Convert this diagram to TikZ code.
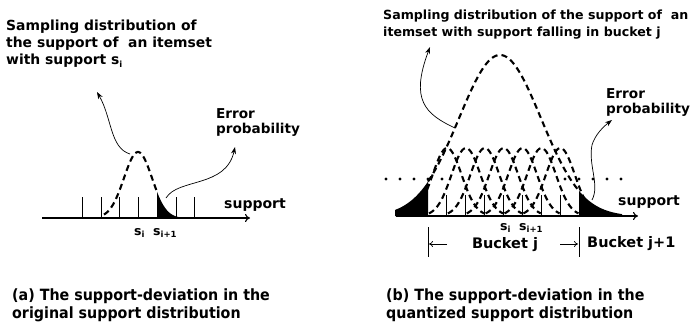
\documentclass[tikz,border=0pt]{standalone}
\usepackage{fontspec}
\setmainfont{DejaVu Sans}
\newfontfamily\capfont{DejaVu Sans}[FakeStretch=0.92]
\usetikzlibrary{arrows.meta}
\newcommand{\sbsc}[1]{\raisebox{-0.4ex}{\fontsize{8.5}{8.5}\selectfont #1}}
\begin{document}
\begin{tikzpicture}[x=1pt,y=-1pt,
  lbl/.style={font=\bfseries\fontsize{13.9}{17}\selectfont, inner sep=0pt, align=left, anchor=north west},
  rlbl/.style={font=\bfseries\fontsize{12.6}{17}\selectfont, inner sep=0pt, align=left, anchor=north west},
  eprob/.style={font=\bfseries\fontsize{13.6}{15}\selectfont, inner sep=0pt, align=left, anchor=north west},
  small/.style={font=\bfseries\fontsize{14}{14}\selectfont, inner sep=0pt},
  slbl/.style={font=\bfseries\fontsize{12.5}{12.5}\selectfont, inner sep=0pt, anchor=base west},
  captxt/.style={font=\capfont\bfseries\fontsize{15.5}{18}\selectfont, inner sep=0pt, align=left, anchor=north west},
  bell/.style={line width=2.1pt, dash pattern=on 6pt off 4pt},
  axisln/.style={line width=1.1pt},
  tickln/.style={line width=0.9pt},
  conn/.style={line width=0.7pt, -{Stealth[length=7pt,width=5pt]}},
  axarrow/.style={-{To[length=5pt,width=8pt]}},
]
\useasboundingbox (0,0) rectangle (693,324);

% ================= left panel =================
\node[lbl] (ltitle) at (6,20) {Sampling distribution of\\the support of\ \ an itemset\\with support s\sbsc{i}};

% black error region
\fill (157,218) -- plot[domain=157:182,samples=30] (\x,{218-66*exp(-((\x-138)^2)/392)}) -- (182,218) -- cycle;
% dashed bell
\draw[bell] plot[domain=104:157,samples=50] (\x,{218-66*exp(-((\x-138)^2)/392)});

% axis and ticks
\coordinate (laxs) at (42,218);
\coordinate (laxe) at (250,218);
\draw[axisln,axarrow] (laxs) -- (laxe);
\foreach \t in {82,101,119.5,138,157,176,194}
  \draw[tickln] (\t,218) -- (\t,197);

\node[slbl] (lsi) at (134,235) {s\sbsc{i}};
\node[slbl] (lsii) at (153,235) {s\sbsc{i+1}};
\node[small,anchor=base west] (lsup) at (224,208) {support};

\node[eprob] (lerr) at (216,108) {Error\\probability};

% connectors
\coordinate (lpk) at (130,154);
\coordinate (ltip) at (97,92);
\draw[conn] (lpk) .. controls (110,148) and (112,118) .. (ltip);
\coordinate (lblk) at (166,198);
\coordinate (letip) at (235,147);
\draw[conn] (lblk) .. controls (178,178) and (226,188) .. (letip);

% ================= right panel =================
\node[rlbl] (rtitle) at (383,10) {Sampling distribution of the support of\ \ an\\itemset with support falling in bucket j};

% black tails of the big bell
\fill (395,216) -- plot[domain=395:428,samples=30] (\x,{216-161*exp(-((\x-500)^2)/3362)}) -- (428,216) -- cycle;
\fill (579,216) -- plot[domain=579:622,samples=30] (\x,{216-161*exp(-((\x-500)^2)/3362)}) -- (622,216) -- cycle;
% big dashed bell
\draw[bell] plot[domain=428:579,samples=90] (\x,{216-161*exp(-((\x-500)^2)/3362)});

% small dashed bells
\foreach \k in {0,...,6} {
  \pgfmathsetmacro{\c}{447.1+18.875*\k}
  \draw[bell] plot[domain=\c-37:\c+37,samples=50] (\x,{216-68*exp(-((\x-\c)^2)/420)});
}

% dotted level
\foreach \d in {386,400,414,428,442,565,579,593,607,621}
  \fill (\d,179) circle (1.6pt);

% axis and ticks
\coordinate (raxs) at (396,216);
\coordinate (raxe) at (638,216);
\draw[axisln,axarrow] (raxs) -- (raxe);
\foreach \k in {1,...,7}
  \draw[tickln] ({428+18.875*\k},216) -- ({428+18.875*\k},195);

\node[slbl] (rsi) at (500,230) {s\sbsc{i}};
\node[slbl] (rsii) at (519,230) {s\sbsc{i+1}};
\node[small,anchor=base west] (rsup) at (618,205) {support};

% bucket bracket
\coordinate (bl1) at (428,227);
\coordinate (bl2) at (428,257);
\coordinate (br1) at (579,227);
\coordinate (br2) at (579,257);
\draw[tickln] (bl1) -- (bl2);
\draw[tickln] (br1) -- (br2);
\node[small,font=\bfseries\fontsize{14.5}{14}\selectfont] (bj) at (505,245) {Bucket j};
\coordinate (bla) at (447,244);
\coordinate (blt) at (429,244);
\coordinate (bra) at (560,244);
\coordinate (brt) at (578,244);
\draw[line width=0.7pt,-{To[length=4pt,width=6pt]}] (bla) -- (blt);
\draw[line width=0.7pt,-{To[length=4pt,width=6pt]}] (bra) -- (brt);
\node[small,anchor=west,font=\bfseries\fontsize{14.5}{14}\selectfont] (bj1) at (587,244) {Bucket j+1};

\node[eprob] (rerr) at (606,88) {Error\\probability};

% connectors
\coordinate (rpk) at (455,128);
\coordinate (rtip) at (430,47);
\draw[conn] (rpk) .. controls (425,114) and (410,100) .. (rtip);
\coordinate (rblk) at (592,200);
\coordinate (retip) at (612,120);
\draw[conn] (rblk) .. controls (600,185) and (588,165) .. (592,145) .. controls (595,135) and (603,127) .. (retip);

% ================= captions =================
\node[captxt] (capa) at (12,289) {(a) The support-deviation in the\\original support distribution};
\node[captxt] (capb) at (386,289) {(b) The support-deviation in the\\quantized support distribution};
\end{tikzpicture}
\end{document}
